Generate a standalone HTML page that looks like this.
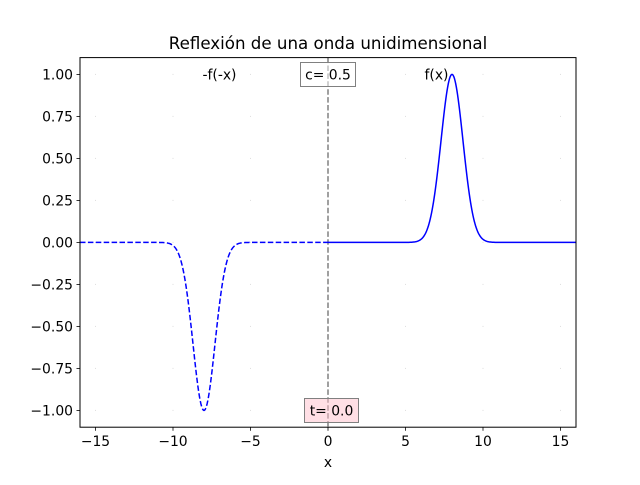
<!DOCTYPE html>
<html><head><meta charset="utf-8"><style>
body{margin:0;background:#fff}
svg{font-family:"DejaVu Sans","Liberation Sans",sans-serif}
</style></head><body>
<svg id="c" width="640" height="480" xmlns="http://www.w3.org/2000/svg">
<rect width="640" height="480" fill="#fff"/>
<g id="grid"></g>
<g id="plot"></g>
<text x="328" y="49" text-anchor="middle" font-size="16.67">Reflexión de una onda unidimensional</text>
<text x="328" y="467" text-anchor="middle" font-size="13.9">x</text>
<g id="ticks" font-size="13.9"></g>
<rect x="80" y="57.6" width="496" height="369.6" fill="none" stroke="#000" stroke-width="1"/>
</svg>
<script>
const xTicks=[-15,-10,-5,0,5,10,15];
const yTicks=[-1.0,-0.75,-0.5,-0.25,0.0,0.25,0.5,0.75,1.0];
const yTickLabels=["−1.00","−0.75","−0.50","−0.25","0.00","0.25","0.50","0.75","1.00"];
const xTickLabels=["−15","−10","−5","0","5","10","15"];
const pulseCenter=[8];
const pulseAmp=[1];
const speed=[0.5];
const time=[0.0];
const X=v=>80+(v+16)*496/32;
const Y=v=>427.2-(v+1.1)*369.6/2.2;
const NS="http://www.w3.org/2000/svg";
function mk(t,a,p){const e=document.createElementNS(NS,t);for(const k in a)e.setAttribute(k,a[k]);p.appendChild(e);return e;}
const grid=document.getElementById('grid'),plot=document.getElementById('plot'),ticks=document.getElementById('ticks');
xTicks.forEach((t,i)=>{
 const k=mk('line',{x1:X(t),x2:X(t),y1:427.2,y2:430.7,stroke:'#000','stroke-width':0.8},ticks);
 
 const s=mk('text',{x:X(t),y:446,'text-anchor':'middle'},ticks);s.textContent=xTickLabels[i];
 
});
yTicks.forEach((t,i)=>{
 const k=mk('line',{x1:76.5,x2:80,y1:Y(t),y2:Y(t),stroke:'#000','stroke-width':0.8},ticks);
 
 const s=mk('text',{x:73,y:Y(t)+5,'text-anchor':'end'},ticks);s.textContent=yTickLabels[i];
 
});
xTicks.forEach(a=>yTicks.forEach(b=>{const d=mk('rect',{x:X(a)-0.5,y:Y(b)-0.5,width:1,height:1,fill:'#ddd'},grid);
 }));
const c=pulseCenter[0],A=pulseAmp[0];
let ps='',pd='';
for(let i=0;i<=400;i++){const x=16*i/400;ps+=(i?'L':'M')+X(x).toFixed(2)+' '+Y(A*Math.exp(-((x-c)**2))).toFixed(2);}
for(let i=0;i<=400;i++){const x=-16+16*i/400;pd+=(i?'L':'M')+X(x).toFixed(2)+' '+Y(-A*Math.exp(-((-x-c)**2))).toFixed(2);}
const vl=mk('line',{x1:X(0),x2:X(0),y1:57.6,y2:427.2,stroke:'#808080','stroke-width':1.5,'stroke-dasharray':'5.5 2.4'},plot);

const p1=mk('path',{d:pd,fill:'none',stroke:'#0000ff','stroke-width':1.5,'stroke-dasharray':'5.5 2.4'},plot);

const p2=mk('path',{d:ps,fill:'none',stroke:'#0000ff','stroke-width':1.5},plot);

const t1=mk('text',{x:X(-7),y:Y(1)+5,'text-anchor':'middle','font-size':13.9},plot);t1.textContent='-f(-x)';

const t2=mk('text',{x:X(7),y:Y(1)+5,'text-anchor':'middle','font-size':13.9},plot);t2.textContent='f(x)';

const b1=mk('rect',{x:300.5,y:62.5,width:55,height:24,fill:'rgba(255,255,255,0.5)',stroke:'#808080'},plot);

const s1=mk('text',{x:328,y:79.5,'text-anchor':'middle','font-size':13.9},plot);s1.textContent='c= '+speed[0].toFixed(1);

const b2=mk('rect',{x:304.5,y:398.5,width:54,height:24,fill:'rgba(255,192,203,0.5)',stroke:'#808080'},plot);

const s2=mk('text',{x:331.5,y:415.5,'text-anchor':'middle','font-size':13.9},plot);s2.textContent='t= '+time[0].toFixed(1);

</script>
</body></html>
